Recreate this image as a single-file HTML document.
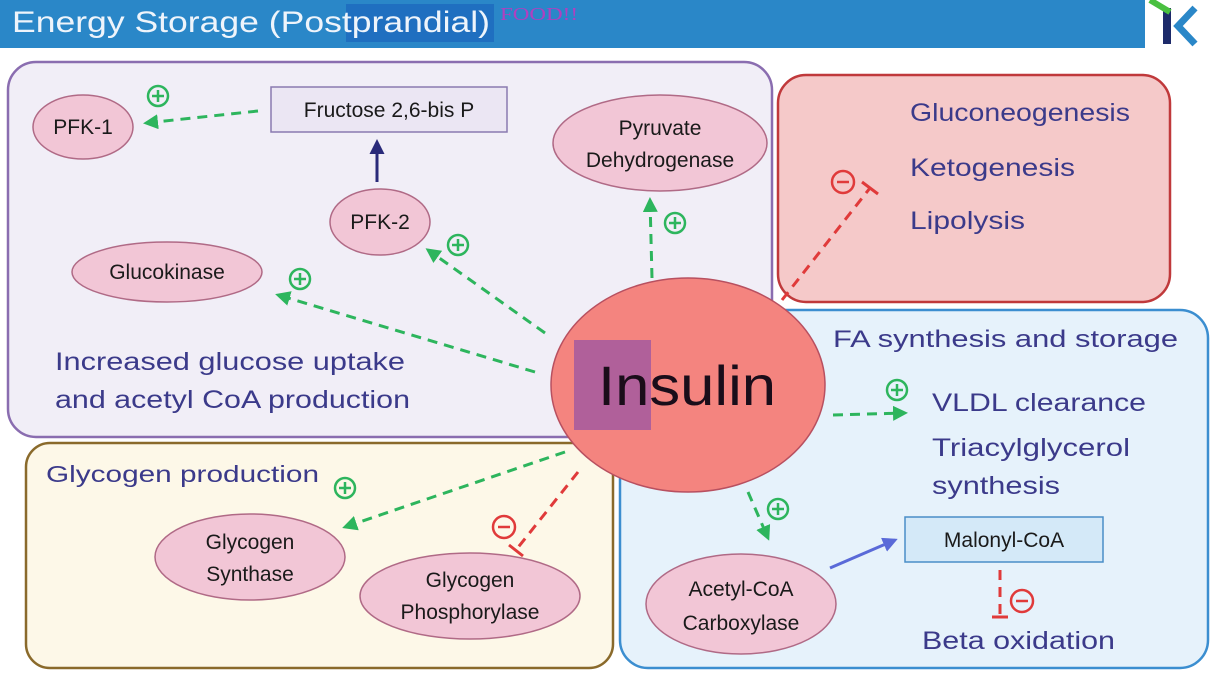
<!DOCTYPE html>
<html><head><meta charset="utf-8"><style>
body{margin:0;width:1228px;height:674px;overflow:hidden;background:#fff;font-family:"Liberation Sans",sans-serif}
</style></head><body>
<svg width="1228" height="674" viewBox="0 0 1228 674" xmlns="http://www.w3.org/2000/svg" font-family="Liberation Sans, sans-serif">
<defs>
<marker id="g" viewBox="0 0 10 10" refX="8" refY="5" markerWidth="5" markerHeight="5" orient="auto"><path d="M0,0L10,5L0,10z" fill="#2db55d"/></marker>
<marker id="n" viewBox="0 0 10 10" refX="8" refY="5" markerWidth="5" markerHeight="5" orient="auto"><path d="M0,0L10,5L0,10z" fill="#2a2a7a"/></marker>
<marker id="b" viewBox="0 0 10 10" refX="8" refY="5" markerWidth="5" markerHeight="5" orient="auto"><path d="M0,0L10,5L0,10z" fill="#5a6ad8"/></marker>
</defs>
<rect x="0" y="0" width="1145" height="48" fill="#2a87c8"/>
<rect x="346" y="4" width="148" height="38" fill="#1f6fc0"/>
<text x="12" y="32" font-size="30" fill="#eef4fb" textLength="478" lengthAdjust="spacingAndGlyphs">Energy Storage (Postprandial)</text>
<text x="500" y="20" font-size="18" fill="#b040c0" font-family="Liberation Serif, serif" textLength="78" lengthAdjust="spacingAndGlyphs">FOOD!!</text>
<rect x="1163" y="8" width="8" height="36" fill="#1d2a6a"/>
<path d="M1195,8 L1178,26 L1195,44" stroke="#2a87c8" stroke-width="7" fill="none"/>
<path d="M1150,0 L1170,12" stroke="#4ac040" stroke-width="6"/>

<rect x="8" y="62" width="764" height="375" rx="28" fill="#f1eef7" stroke="#8a6db0" stroke-width="2.5"/>
<rect x="778" y="75" width="392" height="227" rx="28" fill="#f5c9c9" stroke="#c0393b" stroke-width="2.5"/>
<rect x="620" y="310" width="588" height="358" rx="28" fill="#e6f2fb" stroke="#3b8ed0" stroke-width="2.5"/>
<rect x="26" y="443" width="587" height="225" rx="24" fill="#fdf8e8" stroke="#8a6a2b" stroke-width="2.5"/>

<g stroke="#2db55d" stroke-width="3" stroke-dasharray="10,7" fill="none" marker-end="url(#g)">
<line x1="258" y1="111" x2="146" y2="123"/>
<line x1="545" y1="333" x2="428" y2="250"/>
<line x1="535" y1="372" x2="278" y2="295"/>
<line x1="652" y1="278" x2="650" y2="200"/>
<line x1="565" y1="452" x2="345" y2="527"/>
<line x1="833" y1="415" x2="905" y2="413"/>
<line x1="748" y1="492" x2="768" y2="538"/>
</g>
<g stroke="#e03a3a" stroke-width="3" stroke-dasharray="10,7" fill="none">
<line x1="782" y1="300" x2="870" y2="188"/>
<line x1="578" y1="472" x2="516" y2="550"/>
<line x1="1000" y1="570" x2="1000" y2="615"/>
</g>
<g stroke="#e03a3a" stroke-width="3">
<line x1="862" y1="182" x2="878" y2="194"/>
<line x1="509" y1="545" x2="523" y2="556"/>
<line x1="992" y1="617" x2="1008" y2="617"/>
</g>
<line x1="377" y1="182" x2="377" y2="142" stroke="#2a2a7a" stroke-width="3" marker-end="url(#n)"/>
<line x1="830" y1="568" x2="895" y2="540" stroke="#5a6ad8" stroke-width="3" marker-end="url(#b)"/>

<g fill="none" stroke="#2db55d" stroke-width="2.5">
<circle cx="158" cy="96" r="10"/><path d="M152,96h12M158,90v12"/>
<circle cx="458" cy="245" r="10"/><path d="M452,245h12M458,239v12"/>
<circle cx="300" cy="279" r="10"/><path d="M294,279h12M300,273v12"/>
<circle cx="675" cy="223" r="10"/><path d="M669,223h12M675,217v12"/>
<circle cx="345" cy="488" r="10"/><path d="M339,488h12M345,482v12"/>
<circle cx="897" cy="390" r="10"/><path d="M891,390h12M897,384v12"/>
<circle cx="778" cy="509" r="10"/><path d="M772,509h12M778,503v12"/>
</g>
<g fill="none" stroke="#e03a3a" stroke-width="2.5">
<circle cx="843" cy="182" r="11"/><path d="M837,182h12"/>
<circle cx="504" cy="527" r="11"/><path d="M498,527h12"/>
<circle cx="1022" cy="601" r="11"/><path d="M1016,601h12"/>
</g>

<g fill="#f2c6d6" stroke="#b06a86" stroke-width="1.5">
<ellipse cx="83" cy="127" rx="50" ry="32"/>
<ellipse cx="380" cy="222" rx="50" ry="33"/>
<ellipse cx="167" cy="272" rx="95" ry="30"/>
<ellipse cx="660" cy="143" rx="107" ry="48"/>
<ellipse cx="250" cy="557" rx="95" ry="43"/>
<ellipse cx="470" cy="596" rx="110" ry="43"/>
<ellipse cx="741" cy="604" rx="95" ry="50"/>
</g>
<rect x="271" y="87" width="236" height="45" fill="#ebe6f3" stroke="#8a7ab0" stroke-width="1.5"/>
<rect x="905" y="517" width="198" height="45" fill="#d4e9f8" stroke="#4a8ec8" stroke-width="1.5"/>

<ellipse cx="688" cy="385" rx="137" ry="107" fill="#f4847f" stroke="#b85060" stroke-width="1.5"/>
<rect x="574" y="340" width="77" height="90" fill="#b0609a"/>
<text x="598" y="405" font-size="56" fill="#1a0d1a" textLength="178" lengthAdjust="spacingAndGlyphs">Insulin</text>

<g font-size="21" fill="#1a1a1a" text-anchor="middle">
<text x="83" y="134">PFK-1</text>
<text x="389" y="117">Fructose 2,6-bis P</text>
<text x="380" y="229">PFK-2</text>
<text x="167" y="279">Glucokinase</text>
<text x="660" y="135">Pyruvate</text>
<text x="660" y="167">Dehydrogenase</text>
<text x="250" y="549">Glycogen</text>
<text x="250" y="581">Synthase</text>
<text x="470" y="587">Glycogen</text>
<text x="470" y="619">Phosphorylase</text>
<text x="741" y="596">Acetyl-CoA</text>
<text x="741" y="630">Carboxylase</text>
<text x="1004" y="547">Malonyl-CoA</text>
</g>
<g font-size="25" fill="#3b3a8a" lengthAdjust="spacingAndGlyphs">
<text x="910" y="121" textLength="220" lengthAdjust="spacingAndGlyphs">Gluconeogenesis</text>
<text x="910" y="176" textLength="165" lengthAdjust="spacingAndGlyphs">Ketogenesis</text>
<text x="910" y="229" textLength="115" lengthAdjust="spacingAndGlyphs">Lipolysis</text>
<text x="55" y="370" textLength="350" lengthAdjust="spacingAndGlyphs">Increased glucose uptake</text>
<text x="55" y="408" textLength="355" lengthAdjust="spacingAndGlyphs">and acetyl CoA production</text>
<text x="46" y="482" font-size="23" textLength="273" lengthAdjust="spacingAndGlyphs">Glycogen production</text>
<text x="833" y="347" font-size="24" textLength="345" lengthAdjust="spacingAndGlyphs">FA synthesis and storage</text>
<text x="932" y="411" textLength="214" lengthAdjust="spacingAndGlyphs">VLDL clearance</text>
<text x="932" y="456" textLength="198" lengthAdjust="spacingAndGlyphs">Triacylglycerol</text>
<text x="932" y="494" textLength="128" lengthAdjust="spacingAndGlyphs">synthesis</text>
<text x="922" y="649" textLength="193" lengthAdjust="spacingAndGlyphs">Beta oxidation</text>
</g>
</svg>
</body></html>
